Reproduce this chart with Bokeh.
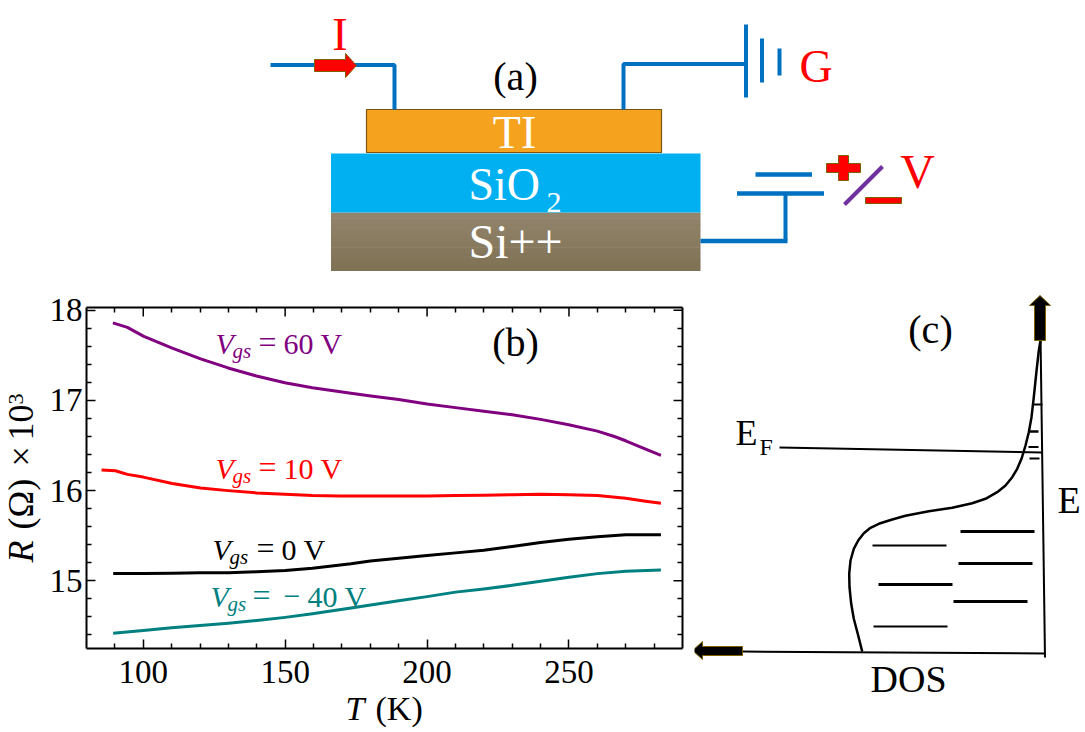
from bokeh.plotting import figure
from bokeh.layouts import column, row
from bokeh.models import Range1d, Label, LinearAxis, FixedTicker
from bokeh.embed import file_html
from bokeh.resources import INLINE

FONT = "Liberation Serif"

# ---------- panel (b) data ----------
x_major = [100, 150, 200, 250]
x_minor = [90, 110, 120, 130, 140, 160, 170, 180, 190, 210, 220, 230, 240, 260, 270, 280]
y_major = [15, 16, 17, 18]
y_minor = [14.4, 14.6, 14.8, 15.2, 15.4, 15.6, 15.8, 16.2, 16.4, 16.6, 16.8, 17.2, 17.4, 17.6, 17.8]

t_60 = [89.3, 94.4, 100.2, 110.2, 120.2, 129.9, 139.9, 149.9, 159.6, 173.2, 180.2, 190, 200, 210, 220, 230, 240, 249.9, 260, 266, 270.2, 275.5, 282.4]
r_60 = [17.86, 17.81, 17.71, 17.58, 17.46, 17.36, 17.27, 17.195, 17.14, 17.08, 17.05, 17.01, 16.96, 16.92, 16.88, 16.84, 16.79, 16.73, 16.66, 16.60, 16.55, 16.48, 16.39]
t_10 = [85.3, 90.2, 94.4, 100, 110.2, 120.2, 129.9, 139.9, 149.9, 159.6, 169.2, 180, 190, 200, 210, 220, 230, 240, 250, 260, 270, 276.4, 282.4]
r_10 = [16.23, 16.22, 16.18, 16.15, 16.08, 16.03, 16.0, 15.975, 15.96, 15.945, 15.94, 15.94, 15.94, 15.94, 15.945, 15.95, 15.955, 15.96, 15.955, 15.945, 15.915, 15.885, 15.86]
t_0 = [89.4, 100, 110, 120, 130, 140, 150, 159.6, 173.2, 180, 190, 200, 210, 220, 230, 240, 250, 260, 270, 282.4]
r_0 = [15.08, 15.08, 15.085, 15.09, 15.09, 15.10, 15.115, 15.14, 15.19, 15.22, 15.25, 15.28, 15.31, 15.34, 15.38, 15.425, 15.46, 15.49, 15.51, 15.51]
t_m40 = [89.4, 100, 110, 120, 130, 140, 150, 159.6, 173.2, 190, 200, 210, 220, 230, 240, 250, 260, 270, 282.4]
r_m40 = [14.42, 14.45, 14.48, 14.505, 14.53, 14.56, 14.595, 14.635, 14.70, 14.78, 14.825, 14.875, 14.91, 14.95, 14.995, 15.04, 15.08, 15.105, 15.12]

# ---------- panel (c) DOS outline ----------
dos_x = [861.7, 857.7, 853.3, 850.7, 849, 848.7, 850, 853.3, 857.7, 863.3, 870, 878.3, 891.7, 905, 928.3, 951.7, 971.7, 985, 996.7, 1005, 1011.7, 1016.7, 1021, 1025, 1028.3, 1031, 1033.3, 1035.7, 1038.3, 1040]
dos_y = [651, 635, 618.3, 603.3, 586.7, 573.3, 560, 548.3, 540, 532.7, 527.3, 523.3, 519, 515.3, 510.7, 507.3, 502.7, 498.3, 491.7, 485, 476.7, 468.3, 458.3, 445, 431.7, 416.7, 396.7, 373.3, 350, 340]

BLUE = "#0070C0"
OLIVE = "#7F6000"


def blank(w, h, x0, x1, y0, y1, **kw):
    p = figure(width=w, height=h, x_range=Range1d(x0, x1), y_range=Range1d(y1, y0),
               x_axis_location=None, y_axis_location=None, toolbar_location=None,
               output_backend="svg", min_border=0, outline_line_color=None,
               frame_align=False, background_fill_color=None, border_fill_color=None, **kw)
    p.grid.visible = False
    return p


def txt(p, x, y, s, size, color="black", style="normal", angle=0, align="left"):
    # Label's alphabetic anchor sits about a third of an em above the text's baseline
    shift = 0.345 * size
    if angle == 0:
        y = y - shift
    else:
        x = x - shift
    p.add_layout(Label(x=x, y=y, text=s, text_font=FONT, text_font_size=f"{size}px",
                       text_color=color, text_font_style=style, angle=angle, angle_units="deg",
                       text_align=align, text_baseline="alphabetic"))


def seg(p, xs, ys, color="black", w=2):
    p.line(xs, ys, line_color=color, line_width=w)


# ---------- panel (a) ----------
a = blank(1085, 290, 0, 1085, 0, 290)
stripes = ["#92856B", "#90826A", "#8E8067", "#8C7E64", "#8A7C61", "#887A5F", "#86785C", "#84765A", "#827457", "#807255"]
for i, c_ in enumerate(stripes):
    a.quad(left=330.5, right=700, top=212 + i * 5.8, bottom=212 + (i + 1) * 5.8 + 0.5, fill_color=c_, line_color=None)
a.quad(left=330.5, right=700, top=153, bottom=212, fill_color="#00B0F0", line_color=None)
a.quad(left=366, right=661, top=109, bottom=152, fill_color="#F5A31E", line_color="#7A5510", line_width=1.2)

seg(a, [270, 394, 394], [64.5, 64.5, 109], BLUE, 4)
seg(a, [623, 623, 745], [109, 63.5, 63.5], BLUE, 4)
seg(a, [745.5, 745.5], [24, 97], BLUE, 4)
seg(a, [761.5, 761.5], [38, 82], BLUE, 4)
seg(a, [779, 779], [48, 75], BLUE, 4)
seg(a, [700, 787], [240.5, 240.5], BLUE, 4.5)
seg(a, [785, 785], [193, 240], BLUE, 4)
seg(a, [736.5, 823.5], [193, 193], BLUE, 4.5)
seg(a, [755, 811.5], [174, 174], BLUE, 4.5)
seg(a, [844, 882], [204, 166], "#7030A0", 4)
a.patch([314, 345, 345, 356, 345, 345, 314], [59, 59, 53, 65, 77, 71, 71], fill_color="#FF0000", line_color=OLIVE, line_width=1)
a.patch([838, 848, 848, 860, 860, 848, 848, 838, 838, 826, 826, 838],
        [155, 155, 163, 163, 172, 172, 180, 180, 172, 172, 163, 163], fill_color="#FF0000", line_color=OLIVE, line_width=1)
a.quad(left=865, right=901, top=197, bottom=203, fill_color="#FF0000", line_color=OLIVE, line_width=1)

txt(a, 339.5, 50, "I", 46, "#FF0000", align="center")
txt(a, 815.5, 82, "G", 46, "#FF0000", align="center")
txt(a, 917, 188, "V", 48, "#FF0000", align="center")
txt(a, 515, 90, "(a)", 40, align="center")
txt(a, 514, 148, "TI", 46, "white", align="center")
txt(a, 468, 200, "SiO", 46, "white")
txt(a, 546, 212, "2", 30, "white")
txt(a, 468, 258, "Si++", 48, "white")

# ---------- panel (b) ----------
b = figure(width=646, height=408,
           x_range=Range1d(80, 290), y_range=Range1d(14.25, 18.03),
           toolbar_location=None, output_backend="svg",
           min_border_left=42, min_border_right=8, min_border_top=17, min_border_bottom=50,
           outline_line_color=None, frame_align=False, border_fill_color=None)
b.grid.visible = False
b.xaxis.ticker = FixedTicker(ticks=x_major, minor_ticks=x_minor)
b.yaxis.ticker = FixedTicker(ticks=y_major, minor_ticks=y_minor)


def style(ax):
    ax.axis_line_width = 2
    ax.major_tick_line_width = 1.5
    ax.minor_tick_line_width = 1.5
    ax.major_tick_in = 9
    ax.major_tick_out = 0
    ax.minor_tick_in = 5
    ax.minor_tick_out = 0


style(b.xaxis[0])
style(b.yaxis[0])
for ax in (b.xaxis[0], b.yaxis[0]):
    ax.major_label_text_font = FONT
    ax.major_label_text_font_size = "33px"
    ax.major_label_text_color = "black"
b.xaxis[0].major_label_standoff = 12
b.yaxis[0].major_label_standoff = 4

# top and right frame edges carry minor ticks from their axes, the major ticks as short segments
top_ax = LinearAxis(ticker=FixedTicker(ticks=[], minor_ticks=x_minor))
right_ax = LinearAxis(ticker=FixedTicker(ticks=[], minor_ticks=y_minor))
style(top_ax)
style(right_ax)
b.add_layout(top_ax, "above")
b.add_layout(right_ax, "right")
b.segment(x0=x_major, x1=x_major, y0=[18.03] * 4, y1=[18.03 - 9 * 3.78 / 341] * 4, line_color="black", line_width=1.5)
b.segment(x0=[290] * 4, x1=[290 - 9 * 210 / 596] * 4, y0=y_major, y1=y_major, line_color="black", line_width=1.5)

b.line(t_60, r_60, line_color="#800080", line_width=3, line_join="round")
b.line(t_10, r_10, line_color="#FF0000", line_width=3, line_join="round")
b.line(t_0, r_0, line_color="black", line_width=3, line_join="round")
b.line(t_m40, r_m40, line_color="#008080", line_width=3, line_join="round")


def bx(px):
    return 80 + (px - 86) / 596 * 210


def by(py):
    return 14.25 + (648 - py) / 341 * 3.78


def btxt(px, py, s, size, color="black", style_="normal", align="left"):
    shift = 0.345 * size
    b.add_layout(Label(x=bx(px), y=by(py - shift), text=s, text_font=FONT, text_font_size=f"{size}px",
                       text_color=color, text_font_style=style_, text_align=align, text_baseline="alphabetic"))


def vgs(x_v, x_gs, x_eq, value_parts, base, color):
    btxt(x_v, base, "V", 30, color, "italic")
    btxt(x_gs, base + 5, "gs", 21, color, "italic")
    btxt(x_eq, base, "=", 32, color)
    for xp, s in value_parts:
        btxt(xp, base, s, 30, color)


vgs(215, 232, 258, [(283, "60 V")], 353, "#800080")
vgs(215, 232, 258, [(283, "10 V")], 478, "#FF0000")
vgs(212, 229, 256, [(281, "0 V")], 559, "black")
vgs(210, 227, 252, [(283, "\u2212"), (307, "40 V")], 606, "#008080")
btxt(515, 356, "(b)", 40, align="center")

# strips holding the axis titles
ys = blank(44, 408, 0, 44, 290, 698)
txt(ys, 33, 562, "R", 36, style="italic", angle=90)
txt(ys, 33, 529, "(\u03a9)", 36, angle=90)
txt(ys, 33, 466, "\u00d7", 36, angle=90)
txt(ys, 33, 440, "10", 36, angle=90)
txt(ys, 23, 404, "3", 22, angle=90)

xs = blank(694, 42, 0, 694, 690, 732, margin=(-8, 0, 0, 0))
txt(xs, 345, 720, "T", 34, style="italic")
txt(xs, 375, 720, "(K)", 34)

# ---------- panel (c) ----------
c = blank(391, 442, 694, 1085, 290, 732)
c.line(dos_x, dos_y, line_color="black", line_width=2.5, line_join="round")
seg(c, [1040, 1044.5], [335, 657], "black", 2)
seg(c, [742, 1045], [651, 653], "black", 2)
seg(c, [779, 1042], [447, 452], "black", 2)
seg(c, [1033, 1042], [404, 404], "black", 2)
seg(c, [1028, 1038], [431, 431], "black", 2.5)
seg(c, [1028, 1038], [446.5, 446.5], "black", 2)
seg(c, [1029, 1039], [458, 458], "black", 2)
seg(c, [960, 1034], [531, 531], "black", 3)
seg(c, [958, 1032], [563, 563], "black", 3)
seg(c, [953, 1027], [601, 601], "black", 3)
seg(c, [872, 946], [545, 545], "black", 2)
seg(c, [878, 952], [584, 584], "black", 3)
seg(c, [873, 947], [626, 626], "black", 2)
c.patch([1034, 1034, 1029, 1039.5, 1050, 1045, 1045], [340, 305, 305, 295, 305, 305, 340],
        fill_color="black", line_color=OLIVE, line_width=1)
c.patch([742, 702, 702, 692, 702, 702, 742], [646, 646, 641, 650, 659, 655, 655],
        fill_color="black", line_color=OLIVE, line_width=1)

txt(c, 930, 343, "(c)", 40, align="center")
txt(c, 735, 445, "E", 36)
txt(c, 759, 455, "F", 24)
txt(c, 1057, 513, "E", 38)
txt(c, 870, 692, "DOS", 38)

left = column(row(ys, b, spacing=0), xs, spacing=0)
layout = column(a, row(left, c, spacing=0), spacing=0)
open("out.html", "w").write(file_html(layout, INLINE))
